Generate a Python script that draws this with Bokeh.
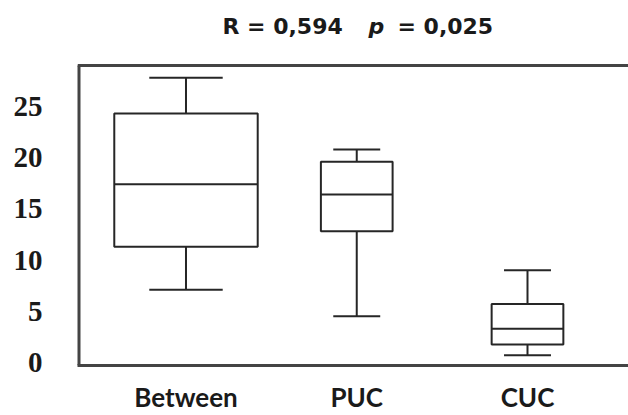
from bokeh.plotting import figure
from bokeh.models import (ColumnDataSource, FixedTicker, LinearAxis, Range1d, Label, Span)
from bokeh.embed import file_html
from bokeh.resources import INLINE

# ---- data ----
categories = ["Between", "PUC", "CUC"]
upper_whisker = [27.8, 20.8, 9.0]
q3 = [24.3, 19.6, 5.7]
median = [17.4, 16.4, 3.3]
q1 = [11.3, 12.8, 1.75]
lower_whisker = [7.1, 4.5, 0.7]
y_ticks = [0, 5, 10, 15, 20, 25]
title_r = "R = 0,594"
title_p = "p"
title_pval = "= 0,025"

# ---- style ----
box_widths = [0.84, 0.42, 0.42]
cap_widths = [0.43, 0.275, 0.275]
LINE = "#262626"
FRAME = "#444444"
X0, X1 = -0.6354, 2.5915
Y0, Y1 = -0.3, 35.34
FRAME_TOP = 29

xs = list(range(len(categories)))
src = ColumnDataSource(dict(
    x=xs, upper=upper_whisker, q3=q3, med=median, q1=q1, lower=lower_whisker,
    bw=box_widths,
    bl=[x - w / 2 for x, w in zip(xs, box_widths)],
    br=[x + w / 2 for x, w in zip(xs, box_widths)],
    cl=[x - w / 2 for x, w in zip(xs, cap_widths)],
    cr=[x + w / 2 for x, w in zip(xs, cap_widths)],
))

p = figure(width=628, height=415, output_backend="svg", toolbar_location=None,
           x_range=Range1d(X0, X1), y_range=Range1d(Y0, Y1),
           x_axis_location=None, y_axis_location=None,
           min_border_left=77, min_border_right=0, min_border_top=0, min_border_bottom=49)
p.outline_line_color = None
p.xgrid.visible = False
p.ygrid.visible = False
p.background_fill_color = "white"
p.border_fill_color = "white"

# frame: top and left borders (right side open, as in the original)
p.add_layout(Span(location=FRAME_TOP, dimension="width", line_color=FRAME, line_width=3))
p.segment(x0=[X0], y0=[Y0], x1=[X0], y1=[FRAME_TOP], line_color=FRAME, line_width=6)

# whiskers
p.segment(x0="x", y0="q3", x1="x", y1="upper", source=src, line_color=LINE, line_width=2)
p.segment(x0="x", y0="q1", x1="x", y1="lower", source=src, line_color=LINE, line_width=2)
p.segment(x0="cl", y0="upper", x1="cr", y1="upper", source=src, line_color=LINE, line_width=2)
p.segment(x0="cl", y0="lower", x1="cr", y1="lower", source=src, line_color=LINE, line_width=2)
# boxes
p.vbar(x="x", width="bw", top="q3", bottom="q1", source=src,
       fill_color="white", line_color=LINE, line_width=2)
p.segment(x0="bl", y0="med", x1="br", y1="med", source=src, line_color=LINE, line_width=2)

yax = LinearAxis(ticker=FixedTicker(ticks=y_ticks))
yax.axis_line_color = None
yax.major_tick_line_color = None
yax.minor_tick_line_color = None
yax.major_tick_out = 0
yax.major_tick_in = 0
yax.major_label_text_font = "Liberation Serif"
yax.major_label_text_font_style = "bold"
yax.major_label_text_font_size = "29px"
yax.major_label_text_color = "#1a1a1a"
yax.major_label_standoff = 35
p.add_layout(yax, "left")

xax = LinearAxis(ticker=FixedTicker(ticks=xs))
xax.major_label_overrides = {i: c for i, c in zip(xs, categories)}
xax.axis_line_color = FRAME
xax.axis_line_width = 3
xax.major_tick_line_color = None
xax.minor_tick_line_color = None
xax.major_tick_out = 0
xax.major_tick_in = 0
xax.major_label_text_font = "Lato"
xax.major_label_text_font_style = "bold"
xax.major_label_text_font_size = "26px"
xax.major_label_text_color = "#1a1a1a"
xax.major_label_standoff = 15
p.add_layout(xax, "below")

# title pieces (screen units, relative to the frame's lower-left corner)
common = dict(x_units="screen", y_units="screen", text_font="DejaVu Sans",
              text_font_size="22px", text_color="#1a1a1a", text_baseline="alphabetic",
              text_align="left")
p.add_layout(Label(x=145, y=339, text=title_r, text_font_style="bold", **common))
p.add_layout(Label(x=291, y=339, text=title_p, text_font_style="bold italic", **common))
p.add_layout(Label(x=320, y=339, text=title_pval, text_font_style="bold", **common))

open("out.html", "w").write(file_html(p, INLINE))
